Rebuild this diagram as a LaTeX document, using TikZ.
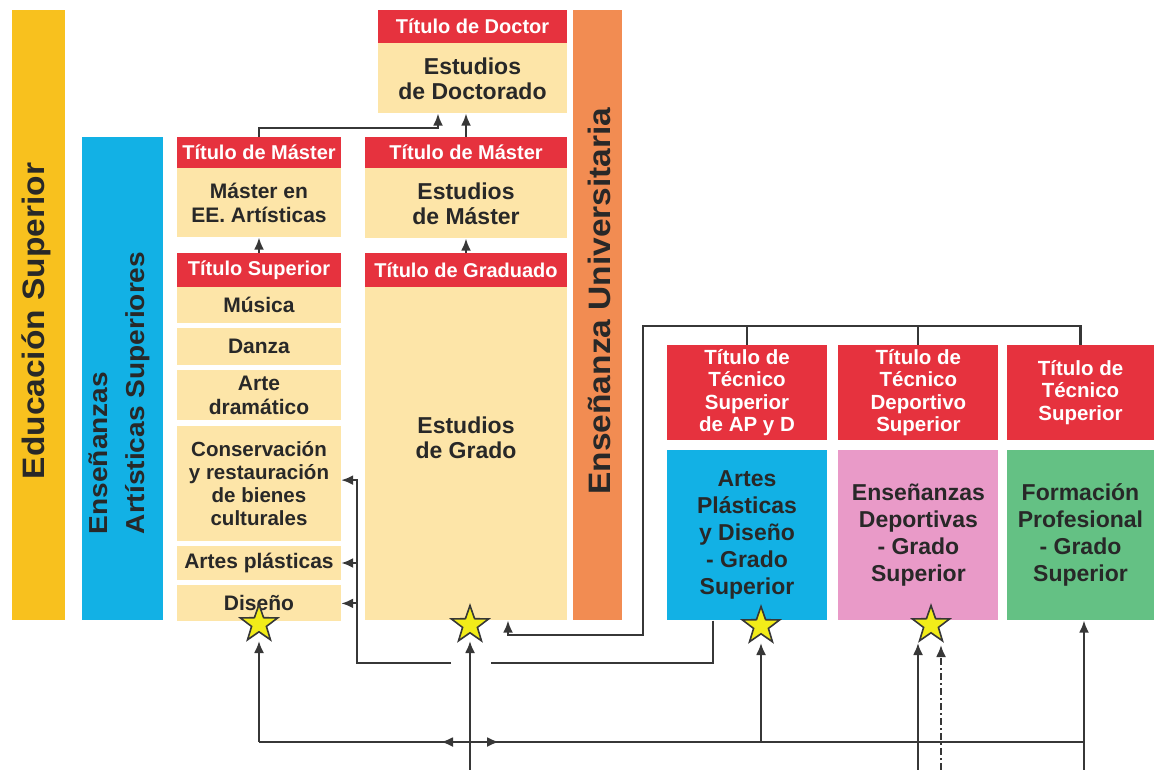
\documentclass[tikz,border=0pt]{standalone}
\usepackage{fontspec}
\setmainfont{Liberation Sans}
\newfontfamily\barfont[FakeStretch=1.08]{Liberation Sans}
\usetikzlibrary{positioning,shapes.geometric,arrows.meta}
\definecolor{tred}{RGB}{230,50,62}
\definecolor{beige}{RGB}{253,229,168}
\definecolor{ambar}{RGB}{248,193,30}
\definecolor{celeste}{RGB}{18,177,229}
\definecolor{naranja}{RGB}{242,140,82}
\definecolor{rosa}{RGB}{233,154,200}
\definecolor{verde}{RGB}{100,193,132}
\definecolor{linea}{RGB}{55,55,55}
\definecolor{texto}{RGB}{40,40,40}
\definecolor{amarillo}{RGB}{242,236,25}

\tikzset{
    caja/.style={inner sep=0pt, align=center, text=texto},
    titulo/.style={caja, fill=tred, text=white, font=\bfseries\fontsize{20}{22}\selectfont},
    estizq/.style={caja, fill=beige, minimum width=164pt, font=\bfseries\fontsize{21}{24}\selectfont},
    estcen/.style={caja, fill=beige, minimum width=202pt, font=\bfseries\fontsize{23}{25}\selectfont},
    grado/.style={caja, minimum width=160pt, minimum height=170pt, font=\bfseries\fontsize{23}{27}\selectfont},
    barra/.style={inner sep=0pt, minimum height=610pt},
    bartxt/.style={rotate=90, text=texto, font=\barfont\bfseries\fontsize{31}{37}\selectfont},
    estrella/.style={star, star points=5, star point ratio=2.5, minimum size=39pt, inner sep=0pt, fill=amarillo, draw=linea, line width=1.6pt},
    linea/.style={draw=linea, line width=2.1pt},
    flecha/.style={linea, -{Latex[length=12pt, width=10pt]}}
}

\begin{document}
\begin{tikzpicture}[x=1pt, y=-1pt]
    \useasboundingbox (0,0) rectangle (1154,770);

    \node[barra, fill=ambar, minimum width=53pt] (edsup) at (38.5,315) {};
    \node[barra, fill=celeste, minimum width=81pt, minimum height=483pt] (eas) at (122.5,378.5) {};
    \node[barra, fill=naranja, minimum width=49pt] (euni) at (597.5,315) {};
    \node[bartxt] at (36,321) {Educación Superior};
    \node[bartxt, align=left, font=\barfont\bfseries\fontsize{26}{37}\selectfont] at (119,393) {Enseñanzas\\Artísticas Superiores};
    \node[bartxt] at (599,301) {Enseñanza Universitaria};

    % artisticas
    \node[titulo, minimum width=164pt, minimum height=31pt] (mtitea) at (259,152.5) {Título de Máster};
    \node[estizq, minimum height=69pt, below=0pt of mtitea] (meea) {Máster en\\EE. Artísticas};
    \node[titulo, minimum width=164pt, minimum height=34pt] (tsup) at (259,270) {Título Superior};
    \node[estizq, minimum height=36pt, below=0pt of tsup] (musica) {Música};
    \node[estizq, minimum height=37pt, below=4pt of musica] (danza) {Danza};
    \node[estizq, minimum height=50pt, below=5pt of danza] (arte) {Arte\\dramático};
    \node[estizq, minimum height=115pt, below=5pt of arte, font=\bfseries\fontsize{20.5}{23}\selectfont] (conserv) {Conservación\\y restauración\\de bienes\\culturales};
    \node[estizq, minimum height=34pt, below=5pt of conserv] (artpl) {Artes plásticas};
    \node[estizq, minimum height=36pt, below=5pt of artpl] (diseno) {Diseño};

    % universidad
    \node[titulo, minimum width=189pt, minimum height=33pt] (tdoc) at (472.5,26.5) {Título de Doctor};
    \node[estcen, minimum width=189pt, minimum height=70pt, below=0pt of tdoc] (edoc) {Estudios\\de Doctorado};
    \node[titulo, minimum width=202pt, minimum height=31pt] (tmas) at (466,152.5) {Título de Máster};
    \node[estcen, minimum height=70pt, below=0pt of tmas] (emas) {Estudios\\de Máster};
    \node[titulo, minimum width=202pt, minimum height=34pt] (tgrad) at (466,270) {Título de Graduado};
    \node[estcen, minimum height=333pt, below=0pt of tgrad] (egrado) {};
    \node[caja, font=\bfseries\fontsize{23}{25}\selectfont] (egradotxt) at (466,438) {Estudios\\de Grado};

    % grado superior
    \node[titulo, minimum width=160pt, minimum height=95pt, font=\bfseries\fontsize{20.5}{22.5}\selectfont] (tapd) at (747,392.5) {Título de\\Técnico\\Superior\\de AP y D};
    \node[titulo, minimum width=160pt, minimum height=95pt, right=11pt of tapd, font=\bfseries\fontsize{20.5}{22.5}\selectfont] (tdep) {Título de\\Técnico\\Deportivo\\Superior};
    \node[titulo, minimum width=147pt, minimum height=95pt, font=\bfseries\fontsize{20.5}{22.5}\selectfont] (ttec) at (1080.5,392.5) {Título de\\Técnico\\Superior};
    \node[grado, fill=celeste, below=10pt of tapd] (apd) {Artes\\Plásticas\\y Diseño\\- Grado\\Superior};
    \node[grado, fill=rosa, below=10pt of tdep] (edep) {Enseñanzas\\Deportivas\\- Grado\\Superior};
    \node[grado, fill=verde, minimum width=147pt, below=10pt of ttec] (fprof) {Formación\\Profesional\\- Grado\\Superior};

    \node[estrella] (s1) at (259,624) {};
    \node[estrella] (s2) at (470,625) {};
    \node[estrella] (s3) at (761,626) {};
    \node[estrella] (s4) at (931,625) {};

    % conexiones
    \draw[flecha] (tsup.north) -- (meea.south);
    \draw[flecha] (tgrad.north) -- (emas.south);
    \draw[flecha] (tmas.north) -- (tmas.north |- edoc.south);
    \draw[flecha] (mtitea.north) -- ++(0,-9) -| ([xshift=-34.5pt]edoc.south);

    \coordinate (brk) at (643,326);
    \draw[linea] (tapd.north) -- (tapd.north |- brk);
    \draw[linea] (tdep.north) -- (tdep.north |- brk);
    \draw[flecha] (ttec.north) -- (ttec.north |- brk) -- (brk) -- (643,635) -| ([xshift=42pt]egrado.south);

    \coordinate (hopR) at (491,663);
    \coordinate (hopL) at (451,663);
    \coordinate (vx) at (357,663);
    \draw[linea] ([xshift=-34pt]apd.south) |- (hopR);
    \draw[flecha] (hopL) -- (vx) -- ([yshift=3pt]conserv.east -| vx) -- ([yshift=3pt]conserv.east);
    \draw[flecha] (vx |- artpl.east) -- (artpl.east);
    \draw[flecha] (vx |- diseno.east) -- (diseno.east);

    \coordinate (hl) at (259,742);
    \coordinate (hr) at (1084,742);
    \coordinate (cruce) at (470,742);
    \draw[linea] (hl) -- (hr);
    \draw[flecha] (hl) -- ([yshift=-17pt]s1.center);
    \draw[flecha] (s3.center |- hl) -- ([yshift=-17pt]s3.center);
    \draw[flecha] (470,770) -- ([yshift=-16pt]s2.center);
    \draw[flecha] (cruce) -- (441,742);
    \draw[flecha] (cruce) -- (499,742);
    \draw[flecha] (918,770) -- (918,643);
    \draw[flecha, dash pattern=on 7pt off 3pt on 2pt off 3pt] (941,770) -- (941,645);
    \draw[flecha] (1084,770) -- (fprof.south -| hr);
\end{tikzpicture}
\end{document}
